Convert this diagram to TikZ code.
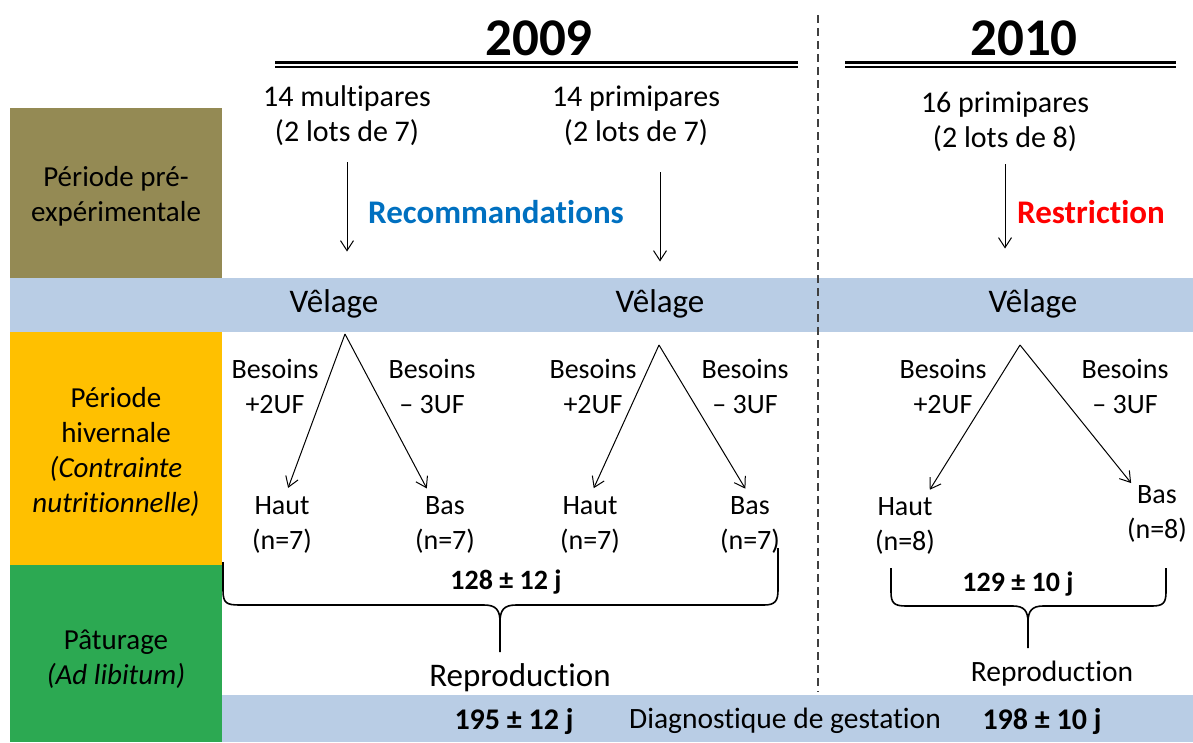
\documentclass[tikz,border=0pt]{standalone}
\usepackage{fontspec}
\setmainfont{Carlito}[Ligatures=NoCommon]
\usepackage{tikz}
\usetikzlibrary{arrows.meta,calc,positioning}

\definecolor{olivepre}{RGB}{148,138,84}
\definecolor{bleubande}{RGB}{185,205,229}
\definecolor{ocrehiver}{RGB}{255,192,0}
\definecolor{vertpat}{RGB}{44,169,82}
\definecolor{bleureco}{RGB}{0,112,192}
\definecolor{grispointille}{RGB}{64,64,64}

\begin{document}
\begin{tikzpicture}[x=1pt,y=-1pt,
		txt/.style={font=\fontsize{28}{35}\selectfont, align=center, inner sep=0pt},
		grand/.style={font=\fontsize{33}{38}\selectfont, inner sep=0pt},
		annee/.style={font=\fontsize{53}{60}\selectfont\bfseries, inner sep=0pt},
		duree/.style={font=\fontsize{28}{34}\selectfont\bfseries, inner sep=0pt},
		fleche/.style={draw, line width=1pt, -{Straight Barb[length=10pt,width=13pt]}},
		accolade/.style={draw, line width=1.6pt, line join=round}
		]
		\useasboundingbox (0,0) rectangle (1193,742);
		
		% Les bandes de couleur
		\fill[olivepre] (10,108) rectangle (222,278);
		\fill[bleubande] (10,278) rectangle (1193,332);
		\fill[ocrehiver] (10,332) rectangle (222,565);
		\fill[vertpat] (10,565) rectangle (222,742);
		\fill[bleubande] (222,695) rectangle (1193,742);
		\draw[grispointille, line width=1.5pt, dash pattern=on 8pt off 5pt] (818,15) -- (818,692);
		
		% Les periodes
		\node[txt, font=\fontsize{29}{35}\selectfont] (pre) at (116,196) {Période pré-\\expérimentale};
		\node[txt, font=\fontsize{29}{35}\selectfont] (hiv) at (116,452) {Période\\hivernale\\\textit{(Contrainte}\\\textit{nutritionnelle)}};
		\node[txt, font=\fontsize{29}{35}\selectfont] (pat) at (116,659) {Pâturage\\\textit{(Ad libitum)}};
		
		% Les annees
		\node[annee] (an1) at (539,38) {2009};
		\node[annee] (an2) at (1024,38) {2010};
		\draw[line width=3pt] (275,62) -- (798,62);
		\draw[line width=1.2pt] (275,67) -- (798,67);
		\draw[line width=3pt] (845,62) -- (1176,62);
		\draw[line width=1.2pt] (845,67) -- (1176,67);
		
		% Les lots
		\node[txt, font=\fontsize{30}{35}\selectfont] (lot1) at (347,116) {14 multipares\\(2 lots de 7)};
		\node[txt, font=\fontsize{30}{35}\selectfont] (lot2) at (636,116) {14 primipares\\(2 lots de 7)};
		\node[txt, font=\fontsize{30}{35}\selectfont] (lot3) at (1005,122) {16 primipares\\(2 lots de 8)};
		\node[grand, font=\fontsize{33}{38}\selectfont\bfseries, text=bleureco] (reco) at (496,212) {Recommandations};
		\node[grand, font=\fontsize{33}{38}\selectfont\bfseries, text=red] (restr) at (1091,212) {Restriction};
		
		\node[grand] (vel1) at (334,304) {Vêlage};
		\node[grand] (vel2) at (660,304) {Vêlage};
		\node[grand] (vel3) at (1033,304) {Vêlage};
		
		\draw[fleche, shorten <=16pt, shorten >=38pt] (lot1.south) -- (lot1.south |- vel1.north);
		\draw[fleche, shorten <=26pt, shorten >=28pt] (vel2 |- lot2.south) -- (vel2.north);
		\draw[fleche, shorten <=12pt, shorten >=41pt] (lot3.south) -- (lot3.south |- vel3.north);
		
		% Les sommets des arbres
		\coordinate (s1) at (345,334);
		\coordinate (s2) at (659,345);
		\coordinate (s3) at (1020,345);
		
		\node[txt] (g1) at (275,386) {Besoins\\+2UF};
		\node[txt] (d1) at (432,386) {Besoins\\– 3UF};
		\node[txt] (h1) at (282,525) {Haut\\(n=7)};
		\node[txt] (b1) at (445,525) {Bas\\(n=7)};
		
		\node[txt] (g2) at (593,386) {Besoins\\+2UF};
		\node[txt] (d2) at (745,386) {Besoins\\– 3UF};
		\node[txt] (h2) at (590,525) {Haut\\(n=7)};
		\node[txt] (b2) at (750,525) {Bas\\(n=7)};
		
		\node[txt] (g3) at (943,386) {Besoins\\+2UF};
		\node[txt] (d3) at (1125,386) {Besoins\\– 3UF};
		\node[txt] (h3) at (905,526) {Haut\\(n=8)};
		\node[txt] (b3) at (1157,514) {Bas\\(n=8)};
		
		% Les fleches des lots
		\draw[fleche, shorten >=9pt] (s1) -- ([xshift=3pt]h1.north);
		\draw[fleche, shorten >=9pt] (s1) -- ([xshift=-14pt]b1.north);
		\draw[fleche, shorten >=9pt] (s2) -- (h2.north);
		\draw[fleche, shorten >=9pt] (s2) -- (b2.north);
		\draw[fleche, shorten >=9pt] (s3) -- ([xshift=20pt]h3.north);
		\draw[fleche, shorten >=3pt] (s3) -- ([xshift=-24pt]b3.north);
		
		% Les accolades
		\draw[accolade] (223,562) -- (223,590) .. controls (223,603) and (226,605) .. (240,605)
			-- (484,605) .. controls (496,605) and (500,610) .. (500,622) -- (500,652);
		\draw[accolade] (500,622) .. controls (500,610) and (504,605) .. (516,605)
			-- (764,605) .. controls (775,605) and (778,601) .. (778,590) -- (778,548);
		\draw[accolade] (891,568) -- (891,592) .. controls (891,603) and (894,606) .. (906,606)
			-- (1013,606) .. controls (1024,606) and (1028,611) .. (1028,622) -- (1028,648);
		\draw[accolade] (1028,622) .. controls (1028,611) and (1032,606) .. (1043,606)
			-- (1152,606) .. controls (1163,606) and (1166,603) .. (1166,592) -- (1166,568);
		
		\node[duree] (r09) at (506,582) {128 ± 12 j};
		\node[duree] (r10) at (1018,584) {129 ± 10 j};
		\node[grand] (rep1) at (520,678) {Reproduction};
		\node[txt, font=\fontsize{29.5}{36}\selectfont] (rep2) at (1052,674) {Reproduction};
		
		% Le diagnostique
		\node[duree, font=\fontsize{30}{34}\selectfont\bfseries] (g09) at (514,721) {195 ± 12 j};
		\node[txt, font=\fontsize{29.5}{36}\selectfont] (diag) at (785,721) {Diagnostique de gestation};
		\node[duree, font=\fontsize{30}{34}\selectfont\bfseries] (g10) at (1042,721) {198 ± 10 j};
	\end{tikzpicture}
\end{document}
